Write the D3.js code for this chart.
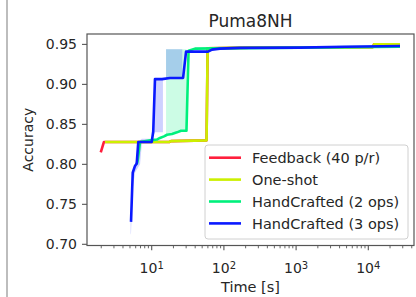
<!DOCTYPE html>
<html>
<head>
<meta charset="utf-8">
<script src="https://cdn.jsdelivr.net/npm/d3@7"></script>
<style>
  body { margin: 0; background: #fff; }
  svg { display: block; font-family: "DejaVu Sans", sans-serif; }
  .tick-label { font-size: 14px; fill: #262626; }
  .legend-label { font-size: 14.5px; fill: #262626; }
</style>
</head>
<body>
<svg id="chart"></svg>
<script>
// values: time in seconds, accuracy
const seriesNames = ['Feedback (40 p/r)', 'One-shot', 'HandCrafted (2 ops)', 'HandCrafted (3 ops)'];
const seriesColors = ['#ff1f3d', '#ccf000', '#00f07c', '#0a19ff'];

const feedbackT = [1.97, 2.18, 17.5, 18.5, 57.5, 59.5, 230, 11500, 12000, 27500];
const feedbackAcc = [0.815, 0.828, 0.828, 0.829, 0.830, 0.945, 0.946, 0.9465, 0.950, 0.950];

const oneShotT = [2.25, 17.5, 18.5, 57.5, 59.5, 230, 11500, 12000, 27500];
const oneShotAcc = [0.828, 0.828, 0.829, 0.830, 0.945, 0.946, 0.9465, 0.950, 0.950];

const hc2T = [6.2, 6.4, 6.9, 9.5, 11.8, 13.0, 14.8, 16.3, 19.1, 22.4, 25.5, 30.3, 32.4, 39.8, 75, 1130, 27500];
const hc2Acc = [0.800, 0.805, 0.828, 0.830, 0.831, 0.833, 0.835, 0.837, 0.838, 0.840, 0.842, 0.842, 0.942, 0.9447, 0.945, 0.946, 0.947];

const hc3T = [5.17, 5.46, 5.87, 6.2, 6.52, 10, 10.5, 11.1, 13.9, 17.9, 27.2, 29.9, 60.3, 68.4, 88, 167, 1130, 4740, 27500];
const hc3Acc = [0.728, 0.7895, 0.798, 0.801, 0.828, 0.828, 0.841, 0.9066, 0.9066, 0.908, 0.908, 0.941, 0.941, 0.9435, 0.9447, 0.9457, 0.946, 0.947, 0.948];

// spread bands (lower / upper edge)
const hc2BandT = [15.8, 16.3, 19.1, 22.4, 25.5, 30.3];
const hc2BandLo = [0.837, 0.837, 0.838, 0.840, 0.842, 0.842];
const hc2BandHi = [0.944, 0.944, 0.944, 0.944, 0.944, 0.944];

const hc3BandAT = [5.1, 5.17, 5.46, 5.9, 6.9, 7.3, 10.0, 10.5, 11.1, 14.3];
const hc3BandALo = [0.712, 0.714, 0.77, 0.79, 0.80, 0.826, 0.826, 0.835, 0.840, 0.840];
const hc3BandAHi = [0.74, 0.735, 0.792, 0.80, 0.830, 0.832, 0.832, 0.842, 0.907, 0.907];
const hc3BandBT = [15.8, 26.5];
const hc3BandBLo = [0.908, 0.908];
const hc3BandBHi = [0.944, 0.944];

const yTicks = [0.70, 0.75, 0.80, 0.85, 0.90, 0.95];
const xMajor = [1, 2, 3, 4];

const W = 416, H = 297;
const margin = {top: 34, right: 2, bottom: 51.5, left: 87};
const plotW = W - margin.left - margin.right;
const plotH = H - margin.top - margin.bottom;

const svg = d3.select('#chart').attr('width', W).attr('height', H);

// grey frame line at the very left
svg.append('line').attr('x1', 7).attr('x2', 7).attr('y1', 0).attr('y2', H)
  .attr('stroke', '#bdbdbd').attr('stroke-width', 2);

const x = d3.scaleLog().domain([1.27, 42950]).range([margin.left, margin.left + plotW]);
const y = d3.scaleLinear().domain([0.6985, 0.963]).range([margin.top + plotH, margin.top]);

const zip = (ts, vs) => ts.map((t, i) => [t, vs[i]]);
const line = d3.line().x(d => x(d[0])).y(d => y(d[1]));
const area = d3.area().x(d => x(d.t)).y0(d => y(d.lo)).y1(d => y(d.hi));
const band = (ts, lo, hi) => ts.map((t, i) => ({t: t, lo: lo[i], hi: hi[i]}));

const plot = svg.append('g');

// bands
plot.append('path').datum(band(hc2BandT, hc2BandLo, hc2BandHi))
  .attr('d', area).attr('fill', seriesColors[2]).attr('fill-opacity', 0.2);
[band(hc3BandAT, hc3BandALo, hc3BandAHi), band(hc3BandBT, hc3BandBLo, hc3BandBHi)].forEach(b => {
  plot.append('path').datum(b).attr('d', area)
    .attr('fill', seriesColors[3]).attr('fill-opacity', 0.2);
});

// lines
const series = [zip(feedbackT, feedbackAcc), zip(oneShotT, oneShotAcc), zip(hc2T, hc2Acc), zip(hc3T, hc3Acc)];
series.forEach((s, i) => {
  plot.append('path').datum(s).attr('d', line)
    .attr('fill', 'none').attr('stroke', seriesColors[i]).attr('stroke-width', 2.6)
    .attr('stroke-linejoin', 'round');
});

// frame
svg.append('rect').attr('x', margin.left).attr('y', margin.top)
  .attr('width', plotW).attr('height', plotH)
  .attr('fill', 'none').attr('stroke', '#555').attr('stroke-width', 1.2);

// y axis
yTicks.forEach(v => {
  svg.append('line').attr('x1', margin.left - 5).attr('x2', margin.left)
    .attr('y1', y(v)).attr('y2', y(v)).attr('stroke', '#555').attr('stroke-width', 1.1);
  svg.append('text').attr('class', 'tick-label').attr('x', margin.left - 10).attr('y', y(v))
    .attr('dy', '0.36em').attr('text-anchor', 'end').text(v.toFixed(2));
});

// x axis: major and minor log ticks
const bottom = margin.top + plotH;
const minor = [];
for (let e = 0; e <= 4; e++) for (let m = 2; m <= 9; m++) {
  const v = m * Math.pow(10, e);
  if (v > x.domain()[0] && v < x.domain()[1]) minor.push(v);
}
minor.forEach(v => {
  svg.append('line').attr('x1', x(v)).attr('x2', x(v)).attr('y1', bottom).attr('y2', bottom + 2.8)
    .attr('stroke', '#555').attr('stroke-width', 0.9);
});
xMajor.forEach(e => {
  const px = x(Math.pow(10, e));
  svg.append('line').attr('x1', px).attr('x2', px).attr('y1', bottom).attr('y2', bottom + 4.8)
    .attr('stroke', '#555').attr('stroke-width', 1.1);
  const t = svg.append('text').attr('class', 'tick-label').attr('x', px).attr('y', 273)
    .attr('text-anchor', 'middle');
  t.append('tspan').text('10');
  t.append('tspan').attr('dy', '-0.45em').attr('font-size', '10px').text(e);
});

// labels
svg.append('text').attr('x', margin.left + plotW / 2).attr('y', 292)
  .attr('text-anchor', 'middle').attr('font-size', '14.5px').attr('fill', '#262626').text('Time [s]');
svg.append('text').attr('transform', `translate(33,${margin.top + plotH / 2}) rotate(-90)`)
  .attr('text-anchor', 'middle').attr('font-size', '14px').attr('fill', '#262626').text('Accuracy');
svg.append('text').attr('x', margin.left + plotW / 2).attr('y', 26.5)
  .attr('text-anchor', 'middle').attr('font-size', '17px').attr('fill', '#262626').text('Puma8NH');

// legend
const lg = svg.append('g').attr('transform', 'translate(205,145)');
lg.append('rect').attr('width', 203).attr('height', 94).attr('rx', 3)
  .attr('fill', '#fff').attr('fill-opacity', 0.85).attr('stroke', '#d0d0d0');
seriesNames.forEach((name, i) => {
  const ry = 12.7 + i * 21.9;
  lg.append('line').attr('x1', 4).attr('x2', 36).attr('y1', ry).attr('y2', ry)
    .attr('stroke', seriesColors[i]).attr('stroke-width', 2.6);
  lg.append('text').attr('class', 'legend-label').attr('x', 47).attr('y', ry).attr('dy', '0.36em').text(name);
});
</script>
</body>
</html>
